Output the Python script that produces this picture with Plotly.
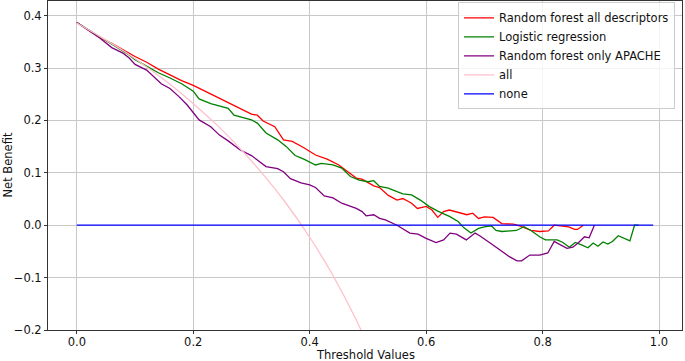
import plotly.graph_objects as go

# ---- data ----
rf_all_x = [0.00, 0.02, 0.04, 0.06, 0.08, 0.10, 0.12, 0.14, 0.16, 0.18, 0.20, 0.22, 0.24, 0.26,
            0.28, 0.30, 0.31, 0.32, 0.34, 0.355, 0.37, 0.39, 0.41, 0.43, 0.45, 0.47, 0.48, 0.49,
            0.51, 0.52, 0.535, 0.55, 0.56, 0.575, 0.585, 0.60, 0.61, 0.62, 0.63, 0.64, 0.66,
            0.67, 0.68, 0.69, 0.70, 0.715, 0.73, 0.75, 0.76, 0.78, 0.795, 0.81, 0.82, 0.83,
            0.845, 0.855, 0.86, 0.87]
rf_all_y = [0.387, 0.372, 0.358, 0.347, 0.334, 0.322, 0.311, 0.298, 0.287, 0.276, 0.267, 0.256,
            0.244, 0.234, 0.222, 0.212, 0.210, 0.199, 0.188, 0.163, 0.160, 0.148, 0.134, 0.126,
            0.115, 0.099, 0.090, 0.088, 0.075, 0.072, 0.057, 0.048, 0.051, 0.042, 0.032, 0.036,
            0.029, 0.015, 0.026, 0.029, 0.022, 0.020, 0.023, 0.013, 0.016, 0.015, 0.003, 0.002,
            -0.001, -0.010, -0.012, -0.011, 0.000, -0.001, -0.003, -0.008, -0.008, 0.000]

logreg_x = [0.00, 0.02, 0.04, 0.06, 0.08, 0.09, 0.10, 0.12, 0.14, 0.16, 0.18, 0.20, 0.21, 0.23,
            0.25, 0.26, 0.27, 0.30, 0.31, 0.325, 0.345, 0.36, 0.375, 0.39, 0.41, 0.42, 0.44,
            0.455, 0.47, 0.485, 0.50, 0.51, 0.52, 0.535, 0.55, 0.56, 0.575, 0.59, 0.605, 0.62,
            0.64, 0.655, 0.665, 0.677, 0.69, 0.70, 0.712, 0.72, 0.73, 0.755, 0.768, 0.78, 0.795,
            0.805, 0.825, 0.835, 0.846, 0.856, 0.868, 0.878, 0.887, 0.895, 0.904, 0.912, 0.92,
            0.93, 0.95, 0.958, 0.965]
logreg_y = [0.387, 0.373, 0.359, 0.345, 0.331, 0.325, 0.316, 0.303, 0.291, 0.281, 0.270, 0.256,
            0.241, 0.232, 0.226, 0.223, 0.210, 0.201, 0.195, 0.176, 0.163, 0.150, 0.133, 0.126,
            0.115, 0.118, 0.115, 0.109, 0.093, 0.086, 0.083, 0.085, 0.074, 0.071, 0.064, 0.060,
            0.058, 0.048, 0.036, 0.027, 0.017, 0.007, -0.005, -0.015, -0.006, -0.003, -0.001,
            -0.010, -0.012, -0.010, -0.003, -0.010, -0.022, -0.028, -0.028, -0.033, -0.042,
            -0.033, -0.038, -0.043, -0.034, -0.040, -0.032, -0.036, -0.031, -0.020, -0.030,
            0.000, 0.000]

rf_apache_x = [0.00, 0.02, 0.04, 0.06, 0.08, 0.09, 0.10, 0.12, 0.13, 0.145, 0.16, 0.175, 0.19,
               0.21, 0.23, 0.245, 0.26, 0.28, 0.30, 0.315, 0.325, 0.345, 0.355, 0.367, 0.385,
               0.40, 0.41, 0.425, 0.44, 0.455, 0.47, 0.48, 0.49, 0.497, 0.51, 0.52, 0.53, 0.55,
               0.572, 0.586, 0.60, 0.617, 0.63, 0.641, 0.652, 0.669, 0.684, 0.692, 0.71, 0.726,
               0.743, 0.756, 0.764, 0.778, 0.795, 0.809, 0.82, 0.83, 0.842, 0.852, 0.862, 0.872,
               0.88, 0.889]
rf_apache_y = [0.387, 0.372, 0.357, 0.339, 0.328, 0.319, 0.307, 0.296, 0.285, 0.270, 0.261,
               0.246, 0.229, 0.201, 0.188, 0.172, 0.161, 0.144, 0.133, 0.121, 0.112, 0.108,
               0.102, 0.089, 0.081, 0.077, 0.072, 0.056, 0.052, 0.042, 0.036, 0.032, 0.026,
               0.018, 0.020, 0.013, 0.010, 0.000, -0.015, -0.017, -0.025, -0.033, -0.028,
               -0.015, -0.017, -0.028, -0.015, -0.020, -0.034, -0.047, -0.060, -0.068, -0.068,
               -0.057, -0.057, -0.053, -0.031, -0.037, -0.044, -0.042, -0.033, -0.022, -0.024,
               0.000]

treat_all_x = [0.00, 0.04, 0.08, 0.12, 0.16, 0.20, 0.24, 0.28, 0.32, 0.36, 0.40, 0.44, 0.48, 0.52]
treat_all_y = [0.386, 0.360, 0.333, 0.302, 0.269, 0.232, 0.192, 0.147, 0.097, 0.041, -0.023,
               -0.096, -0.181, -0.280]

treat_none_x = [0.00, 0.99]
treat_none_y = [0.0, 0.0]

x_ticks = [0.0, 0.2, 0.4, 0.6, 0.8, 1.0]
y_ticks = [-0.2, -0.1, 0.0, 0.1, 0.2, 0.3, 0.4]

x_title = "Threshold Values"
y_title = "Net Benefit"

FONT = "DejaVu Sans"
FS = 11.5
LW = 1.3

fig = go.Figure()
fig.add_trace(go.Scatter(x=rf_all_x, y=rf_all_y, mode="lines", name="Random forest all descriptors",
                         line=dict(color="#ff0000", width=LW)))
fig.add_trace(go.Scatter(x=logreg_x, y=logreg_y, mode="lines", name="Logistic regression",
                         line=dict(color="#008000", width=LW)))
fig.add_trace(go.Scatter(x=rf_apache_x, y=rf_apache_y, mode="lines", name="Random forest only APACHE",
                         line=dict(color="#800080", width=LW)))
fig.add_trace(go.Scatter(x=treat_all_x, y=treat_all_y, mode="lines", name="all",
                         line=dict(color="#ffc0cb", width=LW, shape="spline")))
fig.add_trace(go.Scatter(x=treat_none_x, y=treat_none_y, mode="lines", name="none",
                         line=dict(color="#0000ff", width=LW)))

axis_common = dict(
    automargin=False,
    showline=True, linecolor="#333333", linewidth=1, mirror=True,
    showgrid=True, gridcolor="#c8c8c8", gridwidth=1,
    zeroline=False, ticks="outside", ticklen=3, tickcolor="#333333",
    tickfont=dict(family=FONT, size=FS, color="#111111"),
)

fig.update_layout(
    width=685, height=361,
    margin=dict(l=48, r=3, t=1, b=31),
    paper_bgcolor="white", plot_bgcolor="white",
    font=dict(family=FONT, size=FS, color="#111111"),
    xaxis=dict(range=[-0.0495, 1.0395], tickvals=x_ticks, tickformat=".1f",
               ticklabelstandoff=-2, **axis_common),
    yaxis=dict(range=[-0.2, 0.428], tickvals=y_ticks, tickformat=".1f", **axis_common),
    legend=dict(x=0.989, y=0.996, xanchor="right", yanchor="top",
                bgcolor="rgba(255,255,255,0.8)", bordercolor="#cccccc", borderwidth=1,
                font=dict(family=FONT, size=FS, color="#111111"),
                tracegroupgap=0, itemwidth=30),
    showlegend=True,
    annotations=[
        dict(text=x_title, xref="paper", yref="paper", x=0.5, y=0, yanchor="middle",
             xanchor="center", showarrow=False, yshift=-25,
             font=dict(family=FONT, size=FS, color="#111111")),
        dict(text=y_title, xref="paper", yref="paper", x=0, y=0.5, xanchor="center",
             yanchor="middle", xshift=-41, textangle=-90, showarrow=False,
             font=dict(family=FONT, size=FS, color="#111111")),
    ],
)

fig.write_html("out.html", config={"displayModeBar": False},
               post_script="document.body.style.margin='0';document.body.style.padding='0';")
